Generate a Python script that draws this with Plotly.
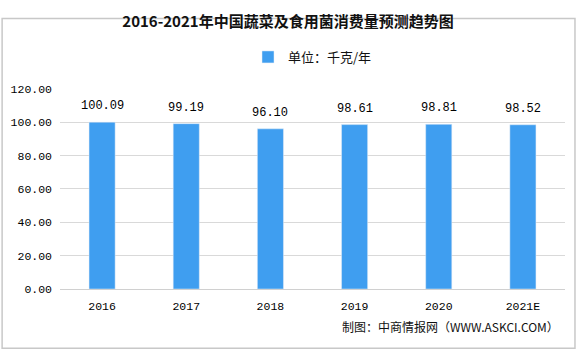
import plotly.graph_objects as go

categories = ["2016", "2017", "2018", "2019", "2020", "2021E"]
values = [100.09, 99.19, 96.10, 98.61, 98.81, 98.52]
labels = ["100.09", "99.19", "96.10", "98.61", "98.81", "98.52"]
y_ticks = [0, 20, 40, 60, 80, 100, 120]

W, H = 576, 353
L, R, T, B = 59, 11, 76, 64
pw = W - L - R
ph = H - T - B

MONO = "Liberation Mono, DejaVu Sans Mono, monospace"

fig = go.Figure()
fig.add_trace(go.Bar(
    x=categories, y=values,
    marker=dict(color="#3f9ef0"), name="单位：千克/年", cliponaxis=False,
    showlegend=True,
))

# category axis: annotations positioned by category index
value_labels = [dict(x=i, y=v, text=t, xref="x", yref="y", showarrow=False,
                     yanchor="bottom", yshift=7,
                     font=dict(family=MONO, size=12, color="#000"))
                for i, (v, t) in enumerate(zip(values, labels))]

fig.update_layout(
    width=W, height=H,
    margin=dict(l=L, r=R, t=T, b=B),
    paper_bgcolor="white", plot_bgcolor="white",
    bargap=0.69,
    title=dict(text="<b>2016-2021年中国蔬菜及食用菌消费量预测趋势图</b>", x=0.5, xanchor="center",
               y=1 - 22 / H, yanchor="middle",
               font=dict(family="Noto Sans CJK SC", size=15, color="#111")),
    legend=dict(orientation="h", x=0.5, xanchor="center", y=1 - 57 / H, yref="container", yanchor="middle",
                font=dict(family="Noto Sans CJK SC", size=13, color="#111"), itemwidth=30),
    xaxis=dict(type="category", categoryorder="array", categoryarray=categories,
               showline=True, linecolor="#d0d0d0", ticks="", showgrid=False, ticklabelstandoff=6,
               tickfont=dict(family=MONO, size=11.5, color="#000")),
    yaxis=dict(range=[0, 120], tickvals=y_ticks, tickformat=".2f", showgrid=True, gridcolor="#d9d9d9",
               zeroline=False, showline=False, ticks="", ticklabelstandoff=7,
               tickfont=dict(family=MONO, size=11.5, color="#000")),
    annotations=value_labels + [dict(text="制图：中商情报网（WWW.ASKCI.COM）",
                      x=(W - 15 - L) / pw, y=(H - 329 - B) / ph,
                      xref="paper", yref="paper", xanchor="right", yanchor="middle",
                      showarrow=False, font=dict(family="Noto Sans CJK SC", size=12, color="#111"))],
    shapes=[dict(type="rect", xref="paper", yref="paper",
                 x0=-(L - 1) / pw, x1=1 + (R - 1) / pw,
                 y0=-(B - 1) / ph, y1=1 + (T - 1) / ph,
                 line=dict(color="#c8c8c8", width=1.5))],
)
fig.write_html("out.html")
